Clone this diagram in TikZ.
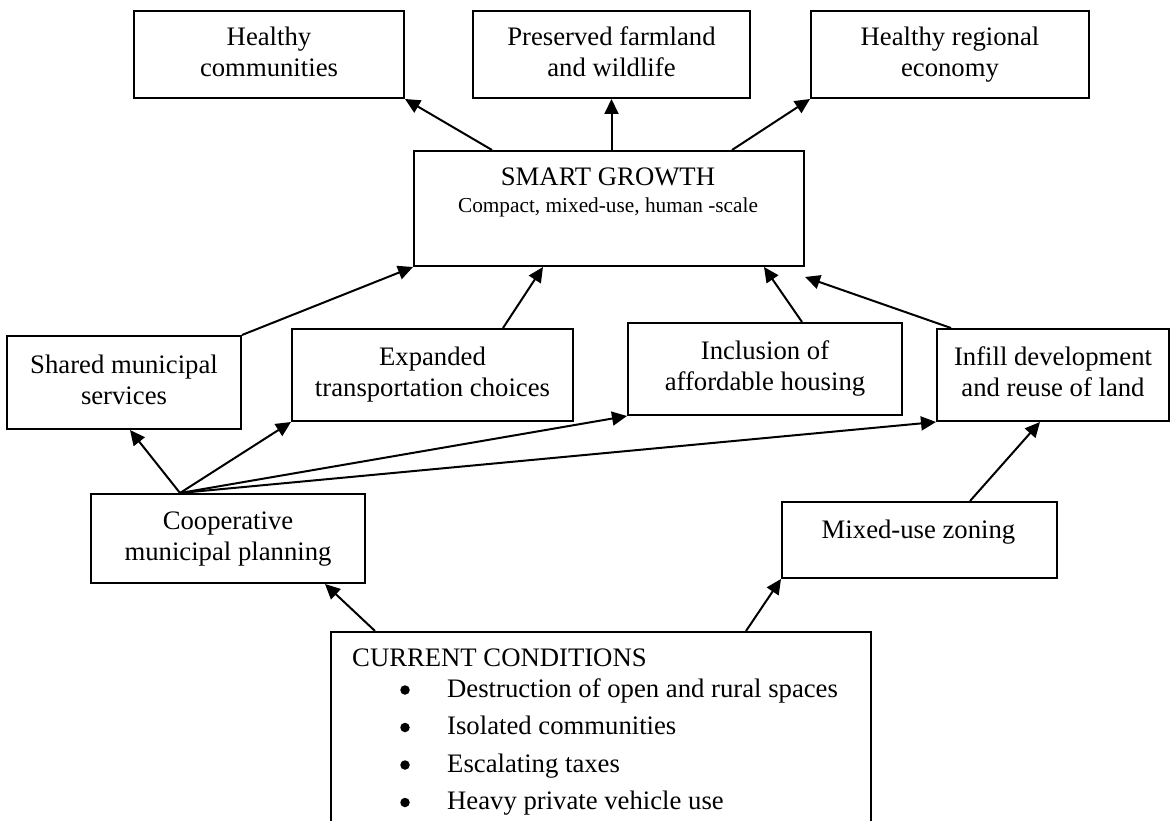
\documentclass[tikz,border=0pt]{standalone}
\usepackage{fontspec}
\setmainfont{Liberation Serif}
\usetikzlibrary{arrows.meta,calc}
\tikzset{
  box/.style={draw, line width=2pt, rectangle, inner sep=0pt, align=center, anchor=north west,
    font=\fontsize{26.7}{31}\selectfont},
  big/.style={font=\fontsize{26.7}{31}\selectfont, inner sep=0pt},
  small/.style={font=\fontsize{21.3}{25}\selectfont, inner sep=0pt},
  dot/.style={circle, fill, inner sep=0pt, minimum size=9.5pt},
  arr/.style={line width=2pt, -{Triangle[length=15pt,width=14pt]}}
}
\begin{document}
\begin{tikzpicture}[x=1pt,y=-1pt]
\useasboundingbox (0,0) rectangle (1170,821);
\clip (0,0) rectangle (1170,821);
\fill[white] (0,0) rectangle (1170,821);
% top outcomes
\node[box, minimum width=270pt, minimum height=87pt] (hc) at (133,10) {\strut Healthy\\communities\strut};
\node[box, minimum width=277pt, minimum height=87pt] (pf) at (472,10) {\strut Preserved farmland\\and wildlife\strut};
\node[box, minimum width=278pt, minimum height=87pt] (hr) at (810,10) {\strut Healthy regional\\economy\strut};
% smart growth
\node[box, minimum width=390pt, minimum height=115pt] (sg) at (413,150) {};
\node[big, anchor=base] (sgt) at (608,186) {SMART GROWTH};
\node[small, anchor=base] (sgs) at (608,213) {Compact, mixed-use, human -scale};
% middle row
\node[box, minimum width=234pt, minimum height=93pt] (sh) at (6,335) {\strut Shared municipal\\services\strut};
\node[box, minimum width=281pt, minimum height=92pt] (ex) at (291,328) {\strut Expanded\\transportation choices\strut};
\node[box, minimum width=274pt, minimum height=92pt] (inc) at (627,322) {\strut Inclusion of\\affordable housing\strut};
\node[box, minimum width=232pt, minimum height=92pt] (inf) at (936,328) {\strut Infill development\\and reuse of land\strut};
% lower row
\node[box, minimum width=274pt, minimum height=89pt] (co) at (90,493) {\strut Cooperative\\municipal planning\strut};
\node[box, minimum width=275pt, minimum height=76pt] (mx) at (781,501) {};
\node[big, anchor=base] (mxt) at (918.5,538) {Mixed-use zoning};
% current conditions
\node[box, minimum width=540pt, minimum height=220pt] (cu) at (330,631) {};
\node[big, anchor=base west] (cut) at (352,666) {CURRENT CONDITIONS};
\foreach \i/\t in {0/Destruction of open and rural spaces,1/Isolated communities,2/Escalating taxes,3/Heavy private vehicle use}{
  \node[dot] (b\i) at (405,690+37.5*\i) {};
  \node[big, anchor=base west] (c\i) at (447,697+37.5*\i) {\t};
}
% connectors to top
\draw[arr] ([xshift=79pt]sg.north west) -- (hc.south east);
\draw[arr] (pf.south |- sg.north) -- (pf.south);
\draw[arr] ([xshift=-73pt]sg.north east) -- (hr.south west);
% middle to smart growth
\draw[arr] (sh.north east) -- (sg.south west);
\draw[arr] ([xshift=212pt]ex.north west) -- ([xshift=130pt]sg.south west);
\draw[arr] ([xshift=175pt]inc.north west) -- ([xshift=-41pt]sg.south east);
\draw[arr] ([xshift=15pt]inf.north west) -- ([yshift=-10pt]sg.south east);
% cooperative planning fan
\coordinate (cs) at ([xshift=90pt]co.north west);
\draw[arr] (cs) -- ([xshift=124pt]sh.south west);
\draw[arr] (cs) -- (ex.south west);
\draw[arr] (cs) -- (inc.south west);
\draw[arr] (cs) -- (inf.south west);
% from current conditions
\draw[arr] ([xshift=45pt]cu.north west) -- ([xshift=235pt]co.south west);
\draw[arr] ([xshift=416pt]cu.north west) -- (mx.south west);
\draw[arr] ([xshift=189pt]mx.north west) -- ([xshift=104pt]inf.south west);
\end{tikzpicture}
\end{document}
